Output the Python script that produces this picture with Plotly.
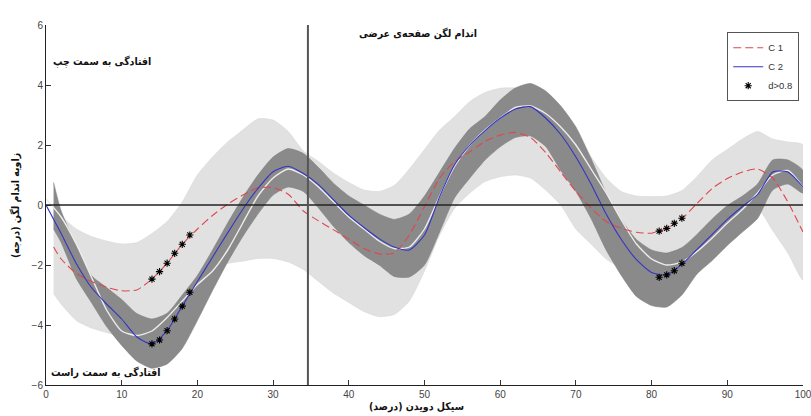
import plotly.graph_objects as go

# ---- data ----
LINE_PCT = list(range(0, 101, 2))
BAND_PCT = [1] + list(range(2, 101, 2))

c2_mean = [0.0, -0.95, -1.95, -2.75, -3.3, -3.8, -4.4, -4.63, -4.19, -3.37,
           -2.55, -1.74, -0.93, -0.14, 0.55, 1.11, 1.29, 1.05, 0.68, 0.17,
           -0.34, -0.75, -1.12, -1.4, -1.5, -1.0, 0.28, 1.35, 2.0, 2.48,
           2.89, 3.2, 3.28, 2.9, 2.35, 1.6, 0.7, -0.3, -1.15, -1.82,
           -2.25, -2.33, -1.98, -1.48, -0.98, -0.48, -0.05, 0.35, 1.1, 1.1,
           0.6]

c1_mean = [-1.4, -1.8, -2.28, -2.55, -2.74, -2.86, -2.83, -2.47, -1.94, -1.31,
           -0.8, -0.35, 0.03, 0.33, 0.57, 0.58, 0.36, -0.2, -0.53, -0.83,
           -1.14, -1.45, -1.63, -1.6, -1.0, -0.05, 0.9, 1.45, 1.78, 2.12,
           2.33, 2.42, 2.25, 1.75, 1.1, 0.45, -0.1, -0.55, -0.78, -0.91,
           -0.94, -0.78, -0.46, 0.05, 0.55, 0.88, 1.1, 1.2, 0.9, 0.1,
           -0.9]

ref_mean = [0.2, -0.4, -1.3, -2.4, -3.5, -4.2, -4.35, -4.2, -3.75, -3.2,
            -2.65, -2.2, -1.5, -0.6, 0.3, 0.9, 1.2, 1.0, 0.6, 0.1,
            -0.4, -0.8, -1.2, -1.45, -1.4, -0.8, 0.3, 1.3, 2.0, 2.5,
            2.9, 3.25, 3.3, 3.05, 2.6, 2.0, 1.2, 0.4, -0.5, -1.3,
            -1.8, -2.0, -1.9, -1.55, -1.1, -0.6, -0.15, 0.4, 1.0, 1.15,
            0.6]

c2_upper = [0.75, -0.2, -1.35, -2.35, -2.75, -3.15, -3.62, -3.8, -3.61, -3.0,
            -2.35, -1.5, -0.6, 0.25, 1.0, 1.6, 1.88, 1.72, 1.25, 0.72,
            0.3, 0.0, -0.3, -0.48, -0.3, 0.3, 1.1, 1.9, 2.55, 2.95,
            3.5, 3.9, 4.05, 3.8, 3.3, 2.6, 1.55, 0.4, -0.5, -1.15,
            -1.5, -1.6, -1.42, -0.98, -0.47, -0.02, 0.3, 0.7, 1.5, 1.5,
            1.15]

c2_lower = [-0.8, -1.25, -2.45, -3.25, -4.05, -4.68, -5.2, -5.44, -5.3, -4.78,
            -3.85, -2.85, -1.9, -1.05, -0.3, 0.33, 0.6, 0.45, -0.1, -0.72,
            -1.25, -1.68, -2.0, -2.38, -2.4, -2.0, -0.9, 0.25, 0.9, 1.5,
            1.94, 2.25, 2.3, 1.95, 1.15, 0.45, -0.45, -1.5, -2.35, -3.05,
            -3.35, -3.4, -3.0, -2.3, -1.85, -1.35, -0.9, -0.45, 0.5, 0.7,
            0.4]

c1_upper = [0.06, -0.35, -0.8, -1.05, -1.2, -1.3, -1.25, -0.95, -0.55, 0.1,
            1.0, 1.6, 2.1, 2.5, 2.87, 2.83, 2.45, 1.8, 1.45, 1.06,
            0.75, 0.5, 0.45, 0.65, 1.2, 1.85, 2.5, 2.95, 3.45, 3.75,
            3.89, 3.9, 3.8, 3.3, 2.9, 2.4, 1.6, 0.9, 0.45, 0.3,
            0.28, 0.3, 0.48, 0.95, 1.5, 1.85, 2.2, 2.45, 2.2, 2.1,
            2.0]

c1_lower = [-2.95, -3.3, -3.85, -4.1, -4.25, -4.38, -4.4, -4.3, -3.85, -3.1,
            -2.55, -2.15, -1.95, -1.87, -1.78, -1.78, -1.9, -2.15, -2.55, -2.94,
            -3.25, -3.55, -3.72, -3.65, -3.2, -2.2, -1.0, -0.1, 0.4, 0.78,
            0.94, 1.0, 0.9, 0.5, 0.0, -0.8, -1.3, -1.8, -2.1, -2.28,
            -2.33, -2.3, -2.1, -1.65, -1.1, -0.6, -0.3, -0.12, -0.85, -1.6,
            -2.5]

STAR_PCT = [14, 15, 16, 17, 18, 19, 81, 82, 83, 84]
star_c1 = [-2.47, -2.22, -1.94, -1.61, -1.31, -1.0, -0.87, -0.78, -0.61, -0.44]
star_c2 = [-4.63, -4.5, -4.19, -3.8, -3.37, -2.91, -2.41, -2.33, -2.19, -1.94]

X_TICKS = list(range(0, 101, 10))
Y_TICKS = [-6, -4, -2, 0, 2, 4, 6]
EVENT_PCT = 34.6

TXT_TITLE = "اندام لگن صفحه‌ی عرضی"
TXT_LEFT = "افتادگی به سمت چپ"
TXT_RIGHT = "افتادگی به سمت راست"
TXT_X = "سیکل دویدن (درصد)"
TXT_Y = "زاویه اندام لگن (درجه)"

FA = "DejaVu Sans Condensed, DejaVu Sans"
LAT = "Liberation Sans, Arial"

fig = go.Figure()

# light band (C1 ± SD)
fig.add_trace(go.Scatter(
    x=BAND_PCT + BAND_PCT[::-1], y=c1_upper + c1_lower[::-1],
    fill="toself", fillcolor="#e1e1e1", line=dict(width=0.6, color="#d6d6d6", shape="spline", smoothing=0.6),
    mode="lines", showlegend=False, hoverinfo="skip"))
# dark band (C2 ± SD)
fig.add_trace(go.Scatter(
    x=BAND_PCT + BAND_PCT[::-1], y=c2_upper + c2_lower[::-1],
    fill="toself", fillcolor="#8a8a8a", line=dict(width=0.6, color="#808080", shape="spline", smoothing=0.6),
    mode="lines", showlegend=False, hoverinfo="skip"))

# reference (whitish) line
fig.add_trace(go.Scatter(
    x=LINE_PCT, y=ref_mean, mode="lines",
    line=dict(color="#ececec", width=1.4, shape="spline", smoothing=0.6),
    showlegend=False, hoverinfo="skip"))

# C1 red dashed
fig.add_trace(go.Scatter(
    x=BAND_PCT, y=c1_mean, mode="lines", name="C 1",
    line=dict(color="#e0474c", width=1.1, dash="8px,4px", shape="spline", smoothing=0.6)))
# C2 blue
fig.add_trace(go.Scatter(
    x=LINE_PCT, y=c2_mean, mode="lines", name="C 2",
    line=dict(color="#3434c4", width=1.1, shape="spline", smoothing=0.6)))

# stars
star_marker = dict(symbol="asterisk-open", size=6, color="black", line=dict(color="black", width=1.1))
fig.add_trace(go.Scatter(
    x=STAR_PCT, y=star_c1, mode="markers", name="d>0.8", legendgroup="d", marker=star_marker))
fig.add_trace(go.Scatter(
    x=STAR_PCT, y=star_c2, mode="markers", name="d>0.8", legendgroup="d", showlegend=False,
    marker=star_marker))

# reference lines
fig.add_shape(type="line", xref="paper", yref="y", x0=0, x1=1, y0=0, y1=0,
              line=dict(color="#222222", width=1.6), layer="above")
fig.add_shape(type="line", xref="x", yref="paper", x0=EVENT_PCT, x1=EVENT_PCT, y0=0, y1=1,
              line=dict(color="#555555", width=2), layer="above")

# annotations
fig.add_annotation(x=49.1, y=5.73, xref="x", yref="y", text="<b>" + TXT_TITLE + "</b>",
                   showarrow=False, font=dict(family=FA, size=10.5, color="#111"))
fig.add_annotation(x=7.4, y=4.77, xref="x", yref="y", text="<b>" + TXT_LEFT + "</b>",
                   showarrow=False, font=dict(family=FA, size=10.5, color="#111"))
fig.add_annotation(x=7.9, y=-5.57, xref="x", yref="y", text="<b>" + TXT_RIGHT + "</b>",
                   showarrow=False, font=dict(family=FA, size=10.5, color="#111"))
# axis titles
fig.add_annotation(x=0.49, y=-0.06, xref="paper", yref="paper", text="<b>" + TXT_X + "</b>",
                   showarrow=False, yanchor="middle", font=dict(family=FA, size=10.5, color="#111"))
fig.add_annotation(x=-0.041, y=0.5, xref="paper", yref="paper", text="<b>" + TXT_Y + "</b>",
                   showarrow=False, textangle=-90, xanchor="center", yanchor="middle",
                   font=dict(family=FA, size=10.5, color="#111"))

fig.update_layout(
    width=811, height=416,
    margin=dict(l=46, r=8, t=25, b=31, autoexpand=False),
    paper_bgcolor="white", plot_bgcolor="white",
    showlegend=True,
    hovermode=False,
    legend=dict(x=0.995, y=0.98, xanchor="right", yanchor="top",
                bgcolor="white", bordercolor="#555", borderwidth=1,
                font=dict(family=LAT, size=9.5, color="#333"),
                tracegroupgap=0, itemwidth=30),
    xaxis=dict(range=[0, 100], tickvals=X_TICKS, ticks="inside", ticklen=5, tickcolor="#333",
               showline=True, linecolor="#222", linewidth=1, showgrid=False, zeroline=False,
               automargin=False, ticklabeloverflow="allow",
               tickfont=dict(family=LAT, size=10, color="#444")),
    yaxis=dict(range=[-6, 6], tickvals=Y_TICKS, ticks="inside", ticklen=5, tickcolor="#333",
               showline=True, linecolor="#222", linewidth=1, showgrid=False, zeroline=False,
               automargin=False, ticklabeloverflow="allow",
               tickfont=dict(family=LAT, size=10, color="#444")),
)

fig.write_html("out.html", config={"displayModeBar": False},
               post_script="document.body.style.margin='0px';document.body.style.overflow='hidden';")
